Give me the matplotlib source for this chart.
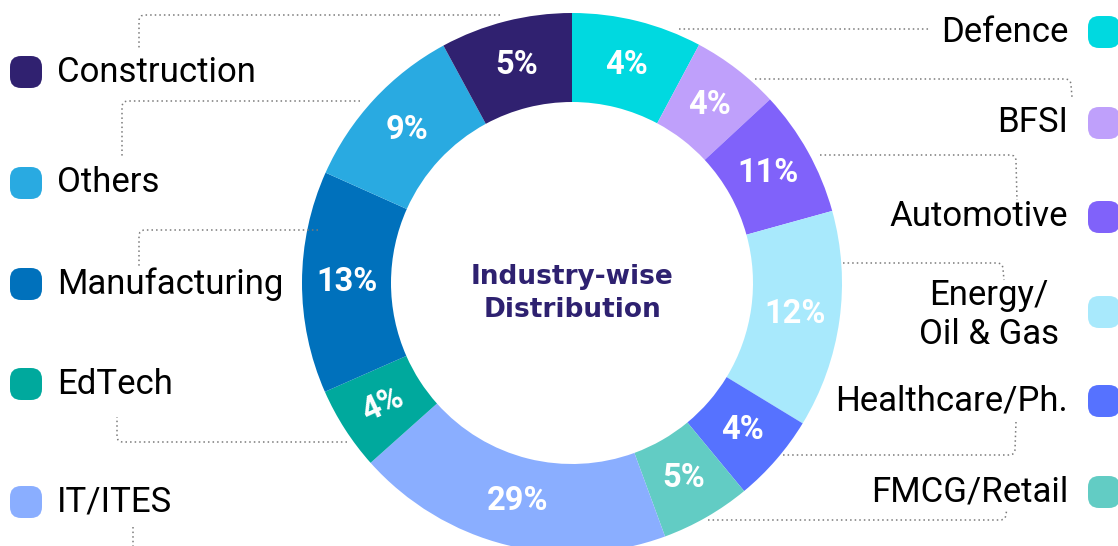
import matplotlib.pyplot as plt
import numpy as np
from matplotlib.patches import FancyBboxPatch
from matplotlib.path import Path
from matplotlib.patches import PathPatch

# clockwise from 12 o'clock
sectors = ["Defence", "BFSI", "Automotive", "Energy/\nOil & Gas", "Healthcare/Ph.",
           "FMCG/Retail", "IT/ITES", "EdTech", "Manufacturing", "Others", "Construction"]
# printed percentages
pct_labels = ["4%", "4%", "11%", "12%", "4%", "5%", "29%", "4%", "13%", "9%", "5%"]
# slice sizes as drawn in the picture (angular share, %)
shares = [7.8, 5.3, 7.6, 13.0, 5.3, 5.4, 19.0, 5.0, 13.3, 10.4, 7.9]
colors = ["#00D9E0", "#BFA0FB", "#8062FA", "#A8E9FC", "#5672FF",
          "#62CCC4", "#8AAEFF", "#00A99D", "#0071BC", "#29AAE1", "#302170"]

W, H = 1118, 546
fig = plt.figure(figsize=(W / 100, H / 100), dpi=100)
ax = fig.add_axes([0, 0, 1, 1])
ax.set_xlim(0, W)
ax.set_ylim(0, H)
ax.set_aspect("equal")
ax.axis("off")

def Y(y):
    return H - y

cx, cy, R = 572, Y(283), 270
wedges, _ = ax.pie(shares, colors=colors, startangle=90, counterclock=False,
                   center=(cx, cy), radius=R,
                   wedgeprops=dict(width=R - 181, linewidth=0))
ax.set_xlim(0, W)
ax.set_ylim(0, H)

# percent labels
start = 0.0
for i, (s, lab) in enumerate(zip(shares, pct_labels)):
    mid = np.deg2rad((start + s / 2) * 3.6)
    start += s
    r = 225
    x = cx + r * np.sin(mid)
    y = cy + r * np.cos(mid)
    rot = 25 if sectors[i] == "EdTech" else 0
    ax.text(x, y, lab, color="white", fontsize=23.5, fontweight="bold",
            family="Roboto", ha="center", va="center", rotation=rot)

ax.text(cx, Y(277), "Industry-wise", color="#2E2170", fontsize=19,
        fontweight="bold", family="DejaVu Sans", ha="center", va="center")
ax.text(cx, Y(310), "Distribution", color="#2E2170", fontsize=19,
        fontweight="bold", family="DejaVu Sans", ha="center", va="center")

# legend entries
left = [("Construction", 72), ("Others", 183), ("Manufacturing", 284),
        ("EdTech", 384), ("IT/ITES", 502)]
right = [("Defence", 32), ("BFSI", 123), ("Automotive", 217),
         ("Energy/\nOil & Gas", 312), ("Healthcare/Ph.", 401), ("FMCG/Retail", 492)]

def marker(xc, yc, col):
    s = 32
    p = 11
    ax.add_patch(FancyBboxPatch((xc - s / 2 + p, Y(yc) - s / 2 + p), s - 2 * p, s - 2 * p,
                                boxstyle=f"round,pad={p}", fc=col, ec="none"))

for name, yc in left:
    marker(26, yc, colors[sectors.index(name)])
    ax.text(57, Y(yc), name, fontsize=25, family="Roboto", ha="left",
            va="center", color="black")

for name, yc in right:
    marker(1104, yc, colors[sectors.index(name)])
    if "\n" in name:
        a, b = name.split("\n")
        ax.text(989, Y(yc - 17), a, fontsize=25, family="Roboto",
                ha="center", va="center")
        ax.text(989, Y(yc + 23), b, fontsize=25, family="Roboto",
                ha="center", va="center")
    else:
        ax.text(1068, Y(yc), name, fontsize=25, family="Roboto",
                ha="right", va="center")

# dotted leader lines (image pixel coords)
leaders = [
    [(500, 15), (139, 15), (139, 50)],
    [(360, 101), (122, 101), (122, 158)],
    [(318, 230), (139, 230), (139, 268)],
    [(347, 442), (117, 442), (117, 417)],
    [(133, 527), (133, 546)],
    [(679, 29), (929, 29)],
    [(755, 79), (1071, 79), (1072, 97)],
    [(820, 155), (1016, 155), (1017, 200)],
    [(843, 263), (1003, 263), (1004, 280)],
    [(783, 455), (1015, 455), (1016, 422)],
    [(708, 520), (1006, 520), (1007, 509)],
]

for pts in leaders:
    if len(pts) == 3:
        (x0, y0), (x1, y1), (x2, y2) = pts
        d = 6
        sx = np.sign(x0 - x1)
        sy = np.sign(y2 - y1)
        verts = [(x0, Y(y0)), (x1 + sx * d, Y(y1)), (x1, Y(y1)),
                 (x1, Y(y1 + sy * d)), (x2, Y(y2))]
        codes = [Path.MOVETO, Path.LINETO, Path.CURVE3, Path.CURVE3, Path.LINETO]
    else:
        verts = [(x, Y(y)) for x, y in pts]
        codes = [Path.MOVETO, Path.LINETO]
    ax.add_patch(PathPatch(Path(verts, codes), fill=False, ec="#7a7a7a",
                           lw=1.1, linestyle=(0, (1, 2))))

fig.savefig("out.png", dpi=100)
